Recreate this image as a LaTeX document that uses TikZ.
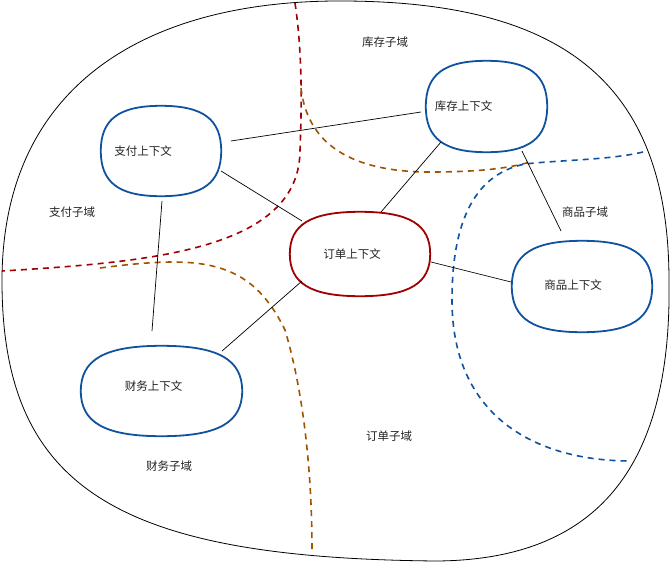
\documentclass[tikz,border=0pt]{standalone}
\usepackage{fontspec}
\usetikzlibrary{calc}
\newfontfamily\cjk{Noto Sans CJK SC}
\definecolor{ctxblue}{RGB}{16,82,158}
\definecolor{ctxred}{RGB}{160,0,0}
\definecolor{domred}{RGB}{160,0,0}
\definecolor{dombrown}{RGB}{160,84,0}
\definecolor{txt}{RGB}{34,34,34}
\tikzset{
  ctx/.style={draw=none, inner sep=0pt},
  lbl/.style={font=\cjk\fontsize{11.5}{13}\selectfont, text=txt, inner sep=0pt},
  dom/.style={font=\cjk\fontsize{11.5}{13}\selectfont, text=txt, inner sep=0pt},
  rel/.style={draw=black, line width=0.7pt},
  bound/.style={line width=1.6pt, dash pattern=on 6pt off 5pt},
  blobline/.style={line width=1.8pt},
}
\newcommand\blobshape[2]{%
  \draw[blobline, draw=#2]
    (#1.north) .. controls ($(#1.north)!0.7!(#1.north east)$) and ($(#1.east)!0.7!(#1.north east)$) .. (#1.east)
    .. controls ($(#1.east)!0.7!(#1.south east)$) and ($(#1.south)!0.7!(#1.south east)$) .. (#1.south)
    .. controls ($(#1.south)!0.7!(#1.south west)$) and ($(#1.west)!0.7!(#1.south west)$) .. (#1.west)
    .. controls ($(#1.west)!0.7!(#1.north west)$) and ($(#1.north)!0.7!(#1.north west)$) .. (#1.north) -- cycle;}
\begin{document}
\begin{tikzpicture}[x=1pt,y=-1pt]
\fill[white] (0,0) rectangle (672,562);
\useasboundingbox (0,0) rectangle (672,562);
% outer region
\draw[black, line width=0.8pt] (2,281) .. controls (2,90) and (140,2) .. (336,1)
  .. controls (560,0) and (669,80) .. (669,281)
  .. controls (672,470) and (595,560) .. (436,561)
  .. controls (120,558) and (2,490) .. (2,281) -- cycle;
% domain boundaries
\draw[bound, draw=domred] (295,3) .. controls (302,50) and (302,100) .. (300,150)
  .. controls (300,250) and (150,262) .. (2,271);
\draw[bound, draw=dombrown] (301,88) .. controls (308,150) and (360,172) .. (430,172)
  .. controls (480,172) and (510,168) .. (530,162);
\draw[bound, draw=dombrown] (100,268) .. controls (200,255) and (250,258) .. (285,330)
  .. controls (303,390) and (312,470) .. (312,550);
\draw[bound, draw=ctxblue] (643,152) .. controls (610,160) and (560,160) .. (525,164)
  .. controls (470,175) and (452,230) .. (452,300)
  .. controls (452,420) and (540,461) .. (631,461);
% contexts
\node[ctx, minimum width=120pt, minimum height=90pt,
  label={[lbl, xshift=-18pt]center:支付上下文}] (pay) at (161,151) {};
\node[ctx, minimum width=121pt, minimum height=91pt,
  label={[lbl, xshift=-23pt]center:库存上下文}] (inv) at (486.5,106.5) {};
\node[ctx, minimum width=140pt, minimum height=84pt,
  label={[lbl, xshift=-8pt]center:订单上下文}] (order) at (360,254) {};
\node[ctx, minimum width=140pt, minimum height=91pt,
  label={[lbl, xshift=-9pt, yshift=1pt]center:商品上下文}] (goods) at (582,286.5) {};
\node[ctx, minimum width=161pt, minimum height=90pt,
  label={[lbl, xshift=-8pt, yshift=5pt]center:财务上下文}] (fin) at (161.5,391) {};
\blobshape{pay}{ctxblue}
\blobshape{inv}{ctxblue}
\blobshape{order}{ctxred}
\blobshape{goods}{ctxblue}
\blobshape{fin}{ctxblue}
% domain labels
\node[dom] (dinv) at (385,42) {库存子域};
\node[dom] (dpay) at (72,212) {支付子域};
\node[dom] (dgoods) at (585,212) {商品子域};
\node[dom] (dorder) at (389,436) {订单子域};
\node[dom] (dfin) at (169,466) {财务子域};
% relation end points
\coordinate (a1) at (231,141); \coordinate (a2) at (421,112);
\coordinate (b1) at (221,171); \coordinate (b2) at (302,221);
\coordinate (c1) at (162,201); \coordinate (c2) at (152,331);
\coordinate (d1) at (441,142); \coordinate (d2) at (381,212);
\coordinate (e1) at (522,151); \coordinate (e2) at (561,231);
\coordinate (f1) at (431,262); \coordinate (f2) at (511,282);
\coordinate (g1) at (302,281); \coordinate (g2) at (222,351);
\draw[rel] (a1) -- (a2);
\draw[rel] (b1) -- (b2);
\draw[rel] (c1) -- (c2);
\draw[rel] (d1) -- (d2);
\draw[rel] (e1) -- (e2);
\draw[rel] (f1) -- (f2);
\draw[rel] (g1) -- (g2);
\end{tikzpicture}
\end{document}
